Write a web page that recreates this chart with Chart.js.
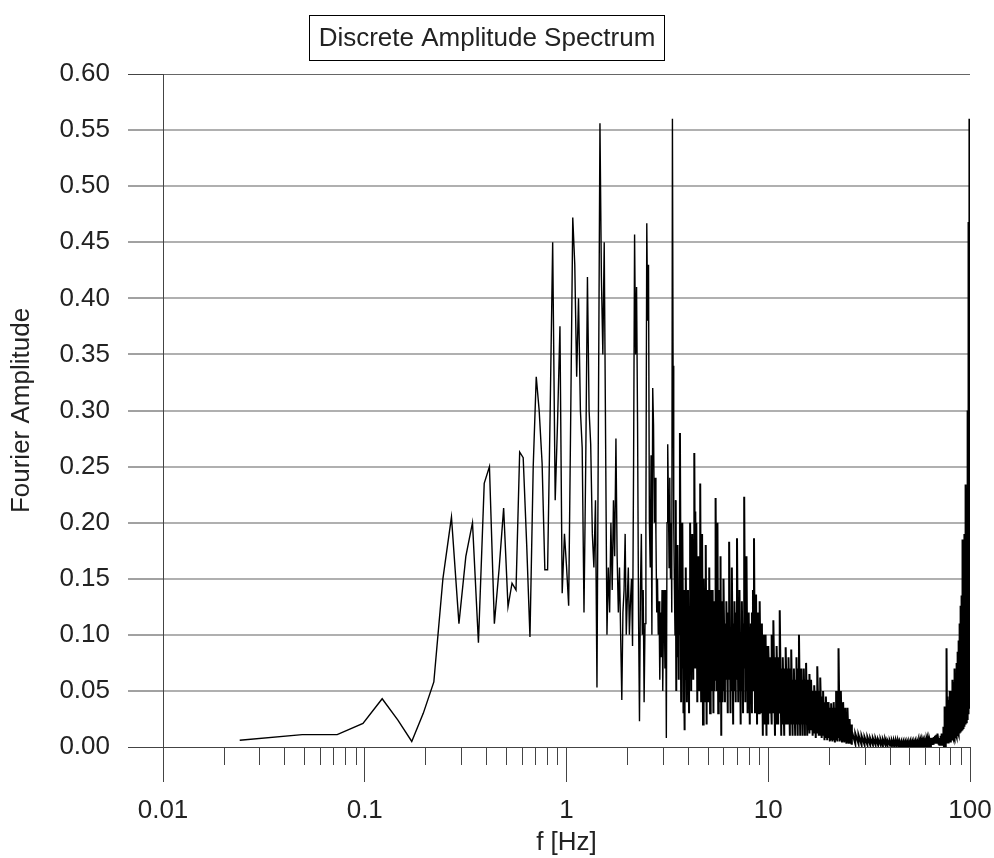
<!DOCTYPE html>
<html>
<head>
<meta charset="utf-8">
<title>Discrete Amplitude Spectrum</title>
<script src="https://cdn.jsdelivr.net/npm/chart.js@4.4.1/dist/chart.umd.min.js"></script>
<style>
  html, body { margin: 0; padding: 0; background: #fff; }
  #wrap { width: 994px; height: 858px; }
</style>
</head>
<body>
<div id="wrap"><canvas id="spectrum" width="994" height="858"></canvas></div>
<script>
// ---- data (frequency in Hz, Fourier amplitude) ----
const chartTitle = "Discrete Amplitude Spectrum";
const xTitle = "f [Hz]";
const yTitle = "Fourier Amplitude";

const xTickValues = [0.01, 0.1, 1, 10, 100];
const xTickLabels = ["0.01", "0.1", "1", "10", "100"];
const xMinorSteps = [2, 3, 4, 5, 6, 7, 8, 9];
const yTickValues = [0, 0.05, 0.1, 0.15, 0.2, 0.25, 0.3, 0.35, 0.4, 0.45, 0.5, 0.55, 0.6];

// below 1 Hz every bin is visible
const lowFreq = [0.024, 0.049, 0.073, 0.098, 0.122, 0.146, 0.171, 0.195, 0.220, 0.244,
                 0.269, 0.293, 0.317, 0.342, 0.366, 0.391, 0.415, 0.439, 0.464, 0.488,
                 0.513, 0.537, 0.562, 0.586, 0.610, 0.635, 0.659, 0.684, 0.708, 0.732,
                 0.757, 0.781, 0.806, 0.830, 0.854, 0.879, 0.903, 0.928, 0.952, 0.977];
const lowAmp  = [0.006, 0.011, 0.011, 0.021, 0.043, 0.024, 0.005, 0.030, 0.058, 0.150,
                 0.205, 0.110, 0.170, 0.200, 0.093, 0.235, 0.250, 0.110, 0.160, 0.213,
                 0.125, 0.146, 0.140, 0.263, 0.258, 0.180, 0.098, 0.250, 0.330, 0.300,
                 0.253, 0.158, 0.158, 0.300, 0.450, 0.220, 0.290, 0.375, 0.137, 0.190];

// 1 - 2 Hz
const oneTwoFreq = [1.001, 1.025, 1.050, 1.074, 1.099, 1.123, 1.147, 1.172, 1.196, 1.221,
                    1.245, 1.270, 1.294, 1.318, 1.343, 1.367, 1.392, 1.416, 1.440, 1.465,
                    1.489, 1.514, 1.538, 1.563, 1.587, 1.611, 1.636, 1.660, 1.685, 1.709,
                    1.733, 1.758, 1.782, 1.807, 1.831, 1.855, 1.880, 1.904, 1.929, 1.953, 1.978];
const oneTwoAmp  = [0.160, 0.126, 0.300, 0.472, 0.430, 0.330, 0.400, 0.300, 0.267, 0.120,
                    0.250, 0.419, 0.300, 0.270, 0.190, 0.160, 0.220, 0.053, 0.300, 0.556,
                    0.420, 0.350, 0.450, 0.270, 0.100, 0.160, 0.120, 0.200, 0.140, 0.220,
                    0.170, 0.275, 0.170, 0.120, 0.160, 0.100, 0.042, 0.120, 0.140, 0.190, 0.100];

// 2 - 3.5 Hz
const twoFourFreq = [2.000, 2.025, 2.050, 2.075, 2.100, 2.125, 2.150, 2.175, 2.200, 2.225,
                     2.250, 2.275, 2.300, 2.325, 2.350, 2.375, 2.400, 2.425, 2.450, 2.475,
                     2.500, 2.525, 2.550, 2.575, 2.600, 2.625, 2.650, 2.675, 2.700, 2.725,
                     2.750, 2.775, 2.800, 2.825, 2.850, 2.875, 2.900, 2.925, 2.950, 2.975,
                     3.000, 3.025, 3.050, 3.075, 3.100, 3.125, 3.150, 3.175, 3.200, 3.225,
                     3.250, 3.275, 3.300, 3.325, 3.350, 3.375, 3.400, 3.425, 3.450, 3.475];
const twoFourAmp  = [0.130, 0.160, 0.100, 0.130, 0.150, 0.090, 0.250, 0.457, 0.350, 0.410,
                     0.290, 0.120, 0.023, 0.140, 0.190, 0.100, 0.140, 0.040, 0.110, 0.200,
                     0.467, 0.380, 0.430, 0.200, 0.160, 0.260, 0.100, 0.320, 0.287, 0.200,
                     0.240, 0.190, 0.120, 0.150, 0.100, 0.130, 0.060, 0.120, 0.080, 0.140,
                     0.050, 0.110, 0.140, 0.070, 0.140, 0.008, 0.200, 0.270, 0.220, 0.160,
                     0.240, 0.150, 0.200, 0.120, 0.560, 0.340, 0.200, 0.146, 0.100, 0.220];

// above 3.5 Hz the bins merge into a black band: per frequency the low and high reading
const fourSixFreq = [3.50, 3.55, 3.60, 3.65, 3.70, 3.75, 3.80, 3.85, 3.90, 3.95,
                     4.00, 4.05, 4.10, 4.15, 4.20, 4.25, 4.30, 4.35, 4.40, 4.45,
                     4.50, 4.55, 4.60, 4.65, 4.70, 4.75, 4.80, 4.85, 4.90, 4.95,
                     5.00, 5.05, 5.10, 5.15, 5.20, 5.25, 5.30, 5.35, 5.40, 5.45,
                     5.50, 5.55, 5.60, 5.65, 5.70, 5.75, 5.80, 5.85, 5.90, 5.95];
const fourSixHigh = [0.120, 0.180, 0.140, 0.280, 0.130, 0.200, 0.120, 0.140, 0.160, 0.120,
                     0.140, 0.110, 0.200, 0.130, 0.190, 0.150, 0.262, 0.210, 0.200, 0.120,
                     0.170, 0.130, 0.235, 0.140, 0.190, 0.120, 0.150, 0.130, 0.180, 0.110,
                     0.140, 0.120, 0.160, 0.110, 0.140, 0.120, 0.140, 0.100, 0.130, 0.160,
                     0.222, 0.180, 0.200, 0.120, 0.140, 0.120, 0.170, 0.100, 0.130, 0.110];
const fourSixLow  = [0.050, 0.080, 0.060, 0.100, 0.040, 0.070, 0.030, 0.015, 0.060, 0.040,
                     0.070, 0.030, 0.080, 0.050, 0.090, 0.060, 0.110, 0.070, 0.080, 0.040,
                     0.070, 0.050, 0.090, 0.040, 0.060, 0.020, 0.060, 0.040, 0.070, 0.020,
                     0.060, 0.040, 0.070, 0.030, 0.060, 0.050, 0.070, 0.030, 0.050, 0.060,
                     0.080, 0.050, 0.070, 0.030, 0.050, 0.040, 0.060, 0.010, 0.050, 0.040];

const sixTenFreq = [6.0, 6.1, 6.2, 6.3, 6.4, 6.5, 6.6, 6.7, 6.8, 6.9,
                    7.0, 7.1, 7.2, 7.3, 7.4, 7.5, 7.6, 7.7, 7.8, 7.9,
                    8.0, 8.1, 8.2, 8.3, 8.4, 8.5, 8.6, 8.7, 8.8, 8.9,
                    9.0, 9.1, 9.2, 9.3, 9.4, 9.5, 9.6, 9.7, 9.8, 9.9];
const sixTenHigh = [0.150, 0.110, 0.130, 0.120, 0.183, 0.100, 0.160, 0.110, 0.130, 0.120,
                    0.186, 0.130, 0.140, 0.100, 0.130, 0.110, 0.223, 0.120, 0.170, 0.100,
                    0.120, 0.100, 0.110, 0.120, 0.140, 0.186, 0.100, 0.136, 0.090, 0.120,
                    0.100, 0.130, 0.100, 0.110, 0.090, 0.100, 0.090, 0.100, 0.080, 0.090];
const sixTenLow  = [0.050, 0.040, 0.060, 0.030, 0.060, 0.030, 0.050, 0.020, 0.050, 0.040,
                    0.060, 0.040, 0.050, 0.020, 0.050, 0.030, 0.070, 0.040, 0.050, 0.030,
                    0.050, 0.020, 0.040, 0.030, 0.050, 0.060, 0.030, 0.050, 0.020, 0.040,
                    0.030, 0.040, 0.030, 0.040, 0.010, 0.030, 0.020, 0.030, 0.010, 0.030];

const tenSixteenFreq = [10.0, 10.2, 10.4, 10.6, 10.8, 11.0, 11.2, 11.4, 11.6, 11.8,
                        12.0, 12.2, 12.4, 12.6, 12.8, 13.0, 13.2, 13.4, 13.6, 13.8,
                        14.0, 14.2, 14.4, 14.6, 14.8, 15.0, 15.2, 15.4, 15.6, 15.8];
const tenSixteenHigh = [0.090, 0.080, 0.100, 0.113, 0.080, 0.090, 0.080, 0.122, 0.070, 0.080,
                        0.070, 0.089, 0.070, 0.080, 0.070, 0.087, 0.060, 0.070, 0.060, 0.080,
                        0.070, 0.100, 0.060, 0.070, 0.060, 0.070, 0.060, 0.075, 0.050, 0.060];
const tenSixteenLow  = [0.020, 0.030, 0.020, 0.030, 0.010, 0.020, 0.020, 0.030, 0.010, 0.020,
                        0.010, 0.020, 0.020, 0.020, 0.010, 0.020, 0.010, 0.020, 0.010, 0.020,
                        0.010, 0.020, 0.010, 0.020, 0.010, 0.020, 0.010, 0.020, 0.010, 0.015];

const sixteenTwentySixFreq = [16.0, 16.3, 16.6, 16.9, 17.2, 17.5, 17.8, 18.1, 18.4, 18.7,
                              19.0, 19.3, 19.6, 19.9, 20.2, 20.5, 20.8, 21.1, 21.4, 21.7,
                              22.0, 22.3, 22.6, 22.9, 23.2, 23.5, 23.8, 24.1, 24.4, 24.7,
                              25.0, 25.3, 25.6, 25.9];
const sixteenTwentySixHigh = [0.065, 0.060, 0.050, 0.055, 0.050, 0.072, 0.050, 0.062, 0.045, 0.050,
                              0.040, 0.045, 0.040, 0.040, 0.035, 0.039, 0.035, 0.040, 0.035, 0.050,
                              0.050, 0.088, 0.050, 0.050, 0.035, 0.040, 0.030, 0.035, 0.030, 0.035,
                              0.025, 0.025, 0.020, 0.020];
const sixteenTwentySixLow  = [0.012, 0.015, 0.010, 0.012, 0.008, 0.012, 0.010, 0.010, 0.008, 0.010,
                              0.006, 0.008, 0.006, 0.008, 0.005, 0.006, 0.005, 0.006, 0.004, 0.006,
                              0.005, 0.008, 0.005, 0.006, 0.004, 0.005, 0.004, 0.005, 0.003, 0.004,
                              0.003, 0.004, 0.003, 0.003];

// 26 - 70 Hz, the quiet floor
const floorFreq = [26, 27, 28, 29, 30, 31, 32, 33, 34, 35, 36, 37, 38, 39, 40, 41, 42, 43, 44, 45, 46, 47,
                   48, 49, 50, 51, 52, 53, 54, 55, 56, 57, 58, 59, 60, 61, 62, 63, 64, 65, 66, 67, 68, 69];
const floorHigh = [0.014, 0.012, 0.011, 0.010, 0.009, 0.009, 0.008, 0.008, 0.008, 0.007, 0.007,
                   0.007, 0.007, 0.006, 0.006, 0.006, 0.006, 0.006, 0.006, 0.005, 0.005, 0.005,
                   0.005, 0.005, 0.005, 0.005, 0.005, 0.005, 0.005, 0.005, 0.006, 0.006, 0.006,
                   0.006, 0.006, 0.007, 0.007, 0.007, 0.008, 0.008, 0.009, 0.010, 0.011, 0.012];
const floorLow  = [0.003, 0.003, 0.003, 0.002, 0.002, 0.002, 0.002, 0.002, 0.002, 0.002, 0.002,
                   0.001, 0.002, 0.001, 0.002, 0.001, 0.001, 0.001, 0.001, 0.001, 0.001, 0.001,
                   0.001, 0.001, 0.001, 0.001, 0.001, 0.001, 0.001, 0.001, 0.001, 0.001, 0.001,
                   0.001, 0.002, 0.002, 0.002, 0.002, 0.002, 0.002, 0.002, 0.003, 0.003, 0.003];

// 70 - 100 Hz, rise towards Nyquist
const nyquistFreq = [70.0, 70.5, 71.0, 71.5, 72.0, 72.5, 73.0, 73.5, 74.0, 74.5,
                     75.0, 75.5, 76.0, 76.5, 77.0, 77.5, 78.0, 78.5, 79.0, 79.5,
                     80.0, 80.5, 81.0, 81.5, 82.0, 82.5, 83.0, 83.5, 84.0, 84.5,
                     85.0, 85.5, 86.0, 86.5, 87.0, 87.5, 88.0, 88.5, 89.0, 89.5,
                     90.0, 90.5, 91.0, 91.5, 92.0, 92.5, 93.0, 93.5, 94.0, 94.5,
                     95.0, 95.5, 96.0, 96.5, 97.0, 97.5, 98.0, 98.5, 99.0, 99.5, 100.0];
const nyquistHigh = [0.006, 0.008, 0.007, 0.010, 0.009, 0.012, 0.011, 0.018, 0.015, 0.036,
                     0.020, 0.028, 0.030, 0.088, 0.035, 0.045, 0.038, 0.042, 0.040, 0.050,
                     0.045, 0.048, 0.050, 0.060, 0.052, 0.058, 0.055, 0.065, 0.070, 0.060,
                     0.065, 0.070, 0.075, 0.085, 0.080, 0.090, 0.095, 0.100, 0.110, 0.126,
                     0.120, 0.130, 0.135, 0.150, 0.185, 0.160, 0.170, 0.180, 0.190, 0.200,
                     0.215, 0.234, 0.225, 0.230, 0.260, 0.300, 0.380, 0.468, 0.470, 0.560, 0.465];
const nyquistLow  = [0.002, 0.002, 0.002, 0.002, 0.002, 0.003, 0.002, 0.003, 0.002, 0.004,
                     0.003, 0.004, 0.003, 0.005, 0.004, 0.005, 0.004, 0.006, 0.005, 0.006,
                     0.005, 0.007, 0.006, 0.008, 0.006, 0.008, 0.007, 0.009, 0.008, 0.010,
                     0.008, 0.010, 0.009, 0.012, 0.010, 0.012, 0.011, 0.014, 0.012, 0.015,
                     0.013, 0.016, 0.014, 0.018, 0.015, 0.020, 0.016, 0.022, 0.018, 0.025,
                     0.020, 0.028, 0.022, 0.030, 0.025, 0.035, 0.030, 0.040, 0.035, 0.045, 0.050];

// ---- look ----
const FONT = { family: '"Liberation Sans", Arial, sans-serif', size: 26 };
const TEXT = "#222";
const AXIS = "#444";
const GRID = "#b0b0b0";

const lineBands = [[lowFreq, lowAmp], [oneTwoFreq, oneTwoAmp], [twoFourFreq, twoFourAmp]];
const denseBands = [
  [fourSixFreq, fourSixLow, fourSixHigh], [sixTenFreq, sixTenLow, sixTenHigh],
  [tenSixteenFreq, tenSixteenLow, tenSixteenHigh],
  [sixteenTwentySixFreq, sixteenTwentySixLow, sixteenTwentySixHigh],
  [floorFreq, floorLow, floorHigh], [nyquistFreq, nyquistLow, nyquistHigh]
];

const linePoints = [];
lineBands.forEach(([f, a]) => {
  f.forEach((v, i) => { if (a[i] !== undefined) linePoints.push({ x: v, y: a[i] }); });
});
// the dense part starts where the resolved line stops
const densePoints = [linePoints[linePoints.length - 1]];
denseBands.forEach(([f, lo, hi]) => {
  f.forEach((v, i) => {
    if (lo[i] === undefined || hi[i] === undefined) return;
    densePoints.push({ x: v, y: lo[i] });
    densePoints.push({ x: v, y: hi[i] });
  });
});

// boxed title above the plot
const titleBox = {
  id: "titleBox",
  afterDraw(chart) {
    const ctx = chart.ctx;
    ctx.save();
    ctx.strokeStyle = "#000";
    ctx.lineWidth = 1;
    ctx.strokeRect(309.5, 15.5, 355, 45);
    ctx.fillStyle = TEXT;
    ctx.font = FONT.size + "px " + FONT.family;
    ctx.textAlign = "center";
    ctx.textBaseline = "middle";
    ctx.fillText(chartTitle, 487, 39);
    ctx.restore();
  }
};

// short minor ticks under the log axis
const minorTicks = {
  id: "minorTicks",
  afterDraw(chart) {
    const x = chart.scales.x;
    const ctx = chart.ctx;
    const y0 = chart.chartArea.bottom;
    ctx.save();
    ctx.strokeStyle = AXIS;
    ctx.lineWidth = 1;
    ctx.beginPath();
    xTickValues.slice(0, -1).forEach(decade => {
      xMinorSteps.forEach(m => {
        const px = Math.round(x.getPixelForValue(decade * m)) + 0.5;
        ctx.moveTo(px, y0);
        ctx.lineTo(px, y0 + 18);
      });
    });
    ctx.stroke();
    ctx.restore();
  }
};

new Chart(document.getElementById("spectrum"), {
  type: "line",
  data: {
    datasets: [
      { data: linePoints, borderColor: "#000", borderWidth: 1.4, pointRadius: 0, tension: 0, fill: false },
      { data: densePoints, borderColor: "#000", borderWidth: 2, pointRadius: 0, tension: 0, fill: false }
    ]
  },
  options: {
    responsive: false,
    animation: false,
    devicePixelRatio: 1,
    layout: { padding: { top: 74, right: 24, bottom: 0, left: 0 } },
    plugins: { legend: { display: false }, tooltip: { enabled: false }, title: { display: false } },
    scales: {
      x: {
        type: "logarithmic",
        min: 0.01,
        max: 100,
        afterBuildTicks: s => { s.ticks = xTickValues.map(v => ({ value: v })); },
        afterFit: s => { s.height = 111; s.paddingLeft = 0; s.paddingRight = 0; },
        grid: { drawOnChartArea: false, drawTicks: true, tickLength: 35, tickColor: AXIS, tickWidth: 1 },
        border: { color: AXIS, width: 1 },
        ticks: {
          autoSkip: false, maxRotation: 0, padding: 13, color: TEXT, font: FONT,
          callback: (v, i) => xTickLabels[i]
        },
        title: { display: true, text: xTitle, color: TEXT, font: FONT, padding: { top: 6, bottom: 0 } }
      },
      y: {
        min: 0,
        max: 0.6,
        afterBuildTicks: s => { s.ticks = yTickValues.map(v => ({ value: v })); },
        afterFit: s => { s.width = 163; },
        grid: {
          color: c => (c.tick && (c.tick.value === 0 || c.tick.value === 0.6)) ? "#666" : GRID,
          lineWidth: c => (c.tick && (c.tick.value === 0 || c.tick.value === 0.6)) ? 1 : 2,
          tickColor: AXIS,
          tickWidth: 1,
          tickLength: 35
        },
        border: { color: AXIS, width: 1 },
        ticks: { padding: 18, color: TEXT, font: FONT, callback: v => v.toFixed(2) },
        title: { display: true, text: yTitle, color: TEXT, font: FONT, padding: { top: 6, bottom: 0 } }
      }
    }
  },
  plugins: [titleBox, minorTicks]
});
</script>
</body>
</html>
